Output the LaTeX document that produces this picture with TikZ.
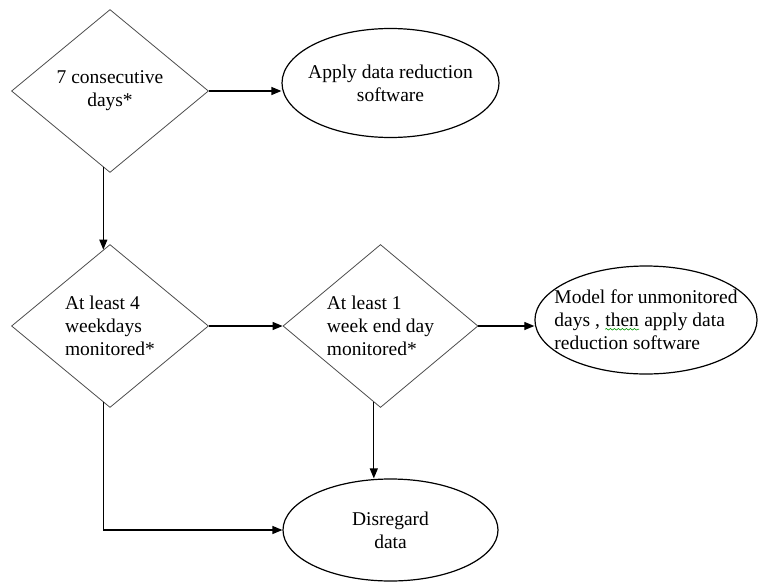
\documentclass[tikz,border=0pt]{standalone}
\usepackage{fontspec}
\setmainfont{Liberation Serif}
\usetikzlibrary{shapes.geometric,arrows.meta,decorations.pathmorphing}

\newcommand\spellmark[1]{\tikz[baseline=(w.base)]{\node[shape=rectangle,draw=none,minimum size=0pt,inner sep=0pt](w){#1};
    \draw[green!60!black,line width=0.6pt,decorate,decoration={snake,amplitude=0.8pt,segment length=4pt}]
        ([yshift=-2.5pt]w.base west) -- ([yshift=-2.5pt]w.base east);}}

\begin{document}
\begin{tikzpicture}[x=1pt,y=-1pt,inner sep=0pt,
            every node/.style={font=\fontsize{19.5}{23}\selectfont},
            test/.style={diamond,draw=black!70,line width=0.8pt,aspect=1.2,minimum width=197pt,minimum height=163pt},
            result/.style={ellipse,draw,line width=1.2pt},
            >={Triangle[length=10pt,width=8pt]}]
                \useasboundingbox (0,0) rectangle (758,584);
                \node[test,align=center](n7days) at (110,91) {7 consecutive\\days*};
                \node[test,align=left](nweekdays) at (110,326) {At least 4\\weekdays\\monitored*};
                \node[test,align=left,minimum width=195pt](nweekend) at (380.5,326) {At least 1\\week end day\\monitored*};
                \node[result,align=center,inner xsep=-6pt,minimum width=217pt,minimum height=109pt](napply) at (390.5,83) {Apply data reduction\\software};
                \node[result,align=left,inner xsep=-13pt,minimum width=222pt,minimum height=108pt](nmodel) at (646,320) {Model for unmonitored\\days , \spellmark{then} apply data\\reduction software};
                \node[result,align=center,minimum width=215pt,minimum height=102pt](ndisregard) at (390.5,530) {Disregard\\data};

            \begin{scope}[->, line width=1.2pt]
                \draw (n7days.east) -- (n7days.east -| napply.west);
                \draw (n7days.-95) -- (nweekdays.95);
                \draw (nweekdays.east) -- (nweekend.west);
                \draw (nweekend.east) -- (nweekend.east -| nmodel.west);
                \draw (nweekend.-95) -- (nweekend.-95 |- ndisregard.north);
                \draw (nweekdays.-95) |- (ndisregard.west);
            \end{scope}
        \end{tikzpicture}
\end{document}
